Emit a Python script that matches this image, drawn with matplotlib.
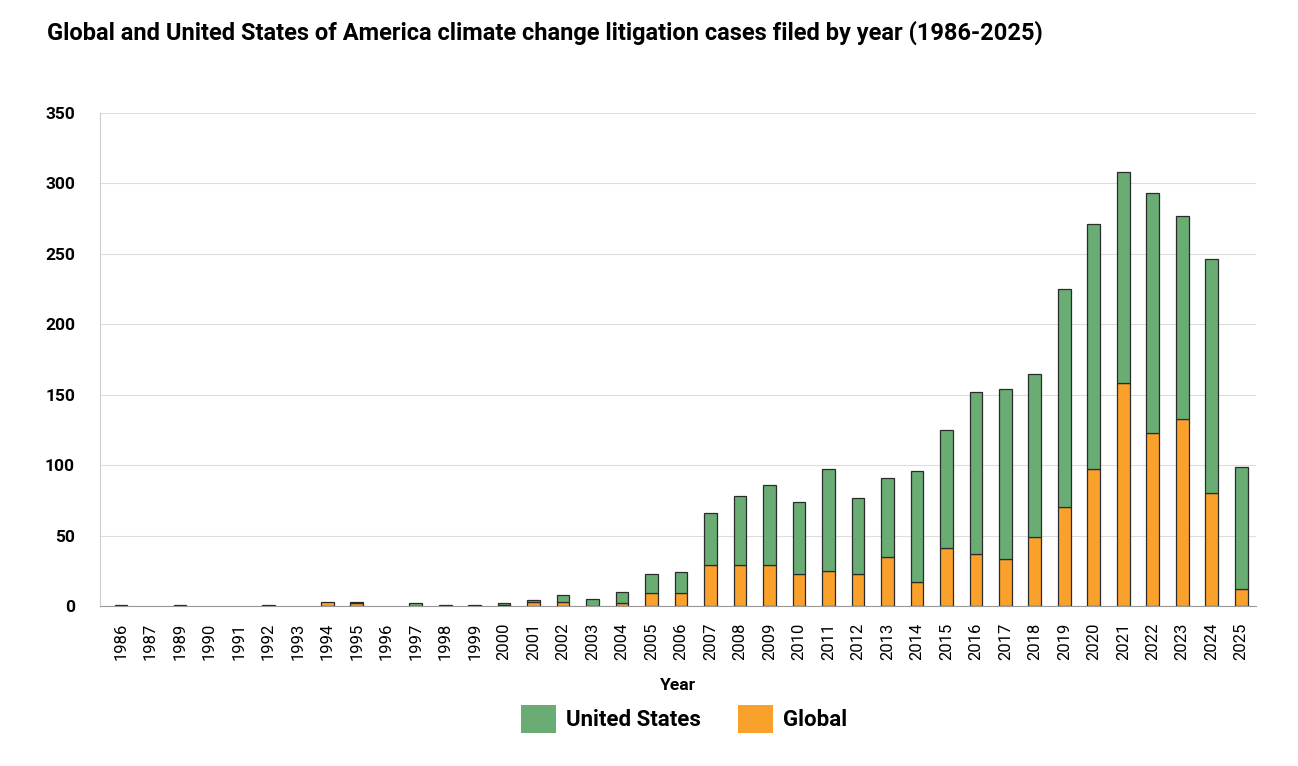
import matplotlib.pyplot as plt
import numpy as np

plt.rcParams['font.family'] = ['Roboto', 'DejaVu Sans']

# data (1988 not shown)
years = [1986, 1987, 1989, 1990, 1991, 1992, 1993, 1994, 1995, 1996,
         1997, 1998, 1999, 2000, 2001, 2002, 2003, 2004, 2005, 2006,
         2007, 2008, 2009, 2010, 2011, 2012, 2013, 2014, 2015, 2016,
         2017, 2018, 2019, 2020, 2021, 2022, 2023, 2024, 2025]
global_cases = [1, 0, 1, 0, 0, 1, 0, 3, 2, 0,
                0, 1, 0, 1, 3, 3, 0, 2, 9, 9,
                29, 29, 29, 23, 25, 23, 35, 17, 41, 37,
                33, 49, 70, 97, 158, 123, 133, 80, 12]
us_cases = [0, 0, 0, 0, 0, 0, 0, 0, 1, 0,
            2, 0, 1, 1, 1, 5, 5, 8, 14, 15,
            37, 49, 57, 51, 72, 54, 56, 79, 84, 115,
            121, 116, 155, 174, 150, 170, 144, 166, 87]

green = "#69AD75"
orange = "#F9A12B"

fig = plt.figure(figsize=(12.98, 7.66), dpi=100)
ax = fig.add_axes([0.077, 0.2089, 0.8906, 0.6436])

x = np.arange(len(years))
# no outline on empty segments
lw_g = [0.9 if v > 0 else 0 for v in global_cases]
lw_u = [0.9 if v > 0 else 0 for v in us_cases]
ax.bar(x, global_cases, width=0.43, color=orange, edgecolor="#2b2b2b", linewidth=lw_g, label="Global", zorder=3)
ax.bar(x, us_cases, width=0.43, bottom=global_cases, color=green, edgecolor="#2b2b2b", linewidth=lw_u,
       label="United States", zorder=3)

ax.set_xlim(-0.71, len(years) - 0.5)
ax.set_ylim(0, 350)
ax.set_yticks(range(0, 351, 50))
ax.set_yticklabels([str(v) for v in range(0, 351, 50)], fontweight="bold", fontsize=12.5)
ax.set_xticks(x)
ax.set_xticklabels([str(y) for y in years], rotation=90, fontsize=12)
ax.tick_params(axis="x", length=0, pad=12)
ax.tick_params(axis="y", length=0, pad=18)

ax.grid(axis="y", color="#dddddd", linewidth=0.8, zorder=0)
for s in ["top", "right"]:
    ax.spines[s].set_visible(False)
ax.spines["left"].set_color("#cccccc")
ax.spines["bottom"].set_color("#999999")

ax.set_xlabel("Year", fontweight="bold", fontsize=12.5, labelpad=13)

handles, labels = ax.get_legend_handles_labels()
leg = fig.legend(handles[::-1], labels[::-1], loc="center", bbox_to_anchor=(0.527, 0.0615), ncol=2,
                 frameon=False, handlelength=1.55, handleheight=1.55, handletextpad=0.45, columnspacing=1.7,
                 prop={"weight": "bold", "size": 16})
for h in leg.legend_handles:
    h.set_edgecolor("none")
    h.set_linewidth(0)

fig.text(0.036, 0.957, "Global and United States of America climate change litigation cases filed by year (1986-2025)",
         fontsize=17, fontweight="bold", va="center", ha="left")

fig.savefig("out.png", dpi=100)
